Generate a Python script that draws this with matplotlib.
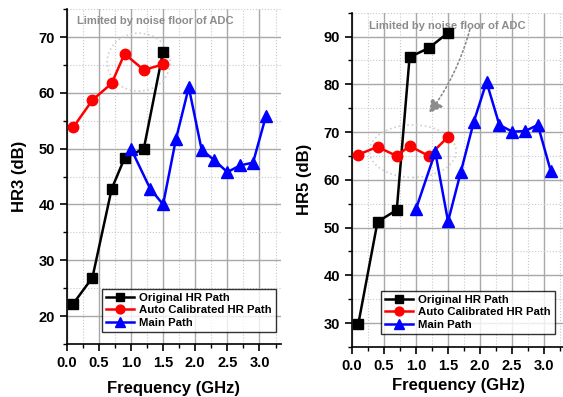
import matplotlib
matplotlib.use("Agg")
import matplotlib.pyplot as plt
from matplotlib.patches import Ellipse, FancyArrowPatch
from matplotlib.ticker import MultipleLocator

# ---- data ----
freq_hr = [0.1, 0.4, 0.7, 0.9, 1.2, 1.5]
freq_main = [1.0, 1.3, 1.5, 1.7, 1.9, 2.1, 2.3, 2.5, 2.7, 2.9, 3.1]

hr3_orig = [22.2, 26.9, 42.8, 48.3, 50.0, 67.4]
hr3_auto = [53.8, 58.7, 61.7, 67.0, 64.1, 65.1]
hr3_main = [50.0, 42.8, 40.0, 51.7, 61.0, 49.8, 47.9, 45.8, 47.0, 47.5, 55.8]

hr5_orig = [29.8, 51.2, 53.7, 85.7, 87.6, 90.8]
hr5_auto = [65.3, 66.9, 65.0, 67.1, 65.0, 69.0]
hr5_main = [53.9, 65.8, 51.3, 61.7, 72.1, 80.5, 71.5, 70.1, 70.2, 71.5, 61.9]

LABELS = ["Original HR Path", "Auto Calibrated HR Path", "Main Path"]
NOTE = "Limited by noise floor of ADC"

plt.rcParams['font.family'] = ['Liberation Sans', 'DejaVu Sans']
plt.rcParams['font.weight'] = 'bold'

fig = plt.figure(figsize=(5.63, 3.97), dpi=100)
ax1 = fig.add_axes([0.1185, 0.1335, 0.380, 0.8435])
ax2 = fig.add_axes([0.625, 0.126, 0.377, 0.842])


def draw_panel(ax, orig, auto, main, ylim, ylabel, leg_box, xpad):
    ax.plot(freq_hr, orig, color='black', marker='s', ms=6.5, lw=1.8, label=LABELS[0], zorder=5)
    ax.plot(freq_hr, auto, color='red', marker='o', ms=7.5, lw=1.8, label=LABELS[1], zorder=5)
    ax.plot(freq_main, main, color='blue', marker='^', ms=8.5, lw=1.8, label=LABELS[2], zorder=5)

    ax.set_ylim(*ylim)
    ax.xaxis.set_major_locator(MultipleLocator(0.5))
    ax.xaxis.set_minor_locator(MultipleLocator(0.25))
    ax.yaxis.set_major_locator(MultipleLocator(10))
    ax.yaxis.set_minor_locator(MultipleLocator(5))
    ax.grid(which='major', color='#a8a8a8', lw=1.0, ls='-')
    ax.grid(which='minor', color='#c8c8c8', lw=0.8, ls=':')
    ax.set_axisbelow(True)

    for s in ['top', 'right']:
        ax.spines[s].set_visible(False)
    for s in ['left', 'bottom']:
        ax.spines[s].set_linewidth(1.2)
    ax.tick_params(which='major', direction='out', length=5, width=1.2, labelsize=10.5)
    ax.tick_params(which='minor', direction='out', length=3, width=1.0)
    for lab in ax.get_xticklabels() + ax.get_yticklabels():
        lab.set_fontweight('bold')

    ax.xaxis.set_major_formatter(plt.FuncFormatter(lambda v, p: f"{v:.1f}"))
    ax.set_xlabel("Frequency (GHz)", fontsize=12, fontweight='bold', labelpad=xpad)
    ax.set_ylabel(ylabel, fontsize=12, fontweight='bold', labelpad=8)

    leg = ax.legend(loc='lower left', bbox_to_anchor=leg_box, fontsize=8.2,
                    frameon=True, fancybox=False, edgecolor='black',
                    handlelength=2.5, borderpad=0.35, labelspacing=0.25,
                    handletextpad=0.4, borderaxespad=0, markerscale=0.85)
    leg.get_frame().set_linewidth(1.0)
    for t in leg.get_texts():
        t.set_fontweight('bold')


draw_panel(ax1, hr3_orig, hr3_auto, hr3_main, (15, 75), "HR3 (dB)", (0.165, 0.035), 8)
ax1.set_xlim(0, 3.33)
draw_panel(ax2, hr5_orig, hr5_auto, hr5_main, (25, 95), "HR5 (dB)", (0.137, 0.038), 4)
ax2.set_xlim(0, 3.31)

# ---- annotations ----
ax1.text(0.05, 0.965, NOTE, transform=ax1.transAxes, color='#8c8c8c',
         fontsize=8, fontweight='bold', va='center', ha='left')
ax1.add_patch(Ellipse((1.12, 65.5), 0.98, 10.4, fill=False, ec='#d0d0d0',
                      ls=':', lw=1.2, zorder=2))

ax2.text(0.08, 0.96, NOTE, transform=ax2.transAxes, color='#8c8c8c',
         fontsize=8, fontweight='bold', va='center', ha='left')
ax2.add_patch(Ellipse((0.95, 66.0), 1.35, 11.0, fill=False, ec='#d0d0d0',
                      ls=':', lw=1.2, zorder=2))
ax2.add_patch(FancyArrowPatch((1.85, 92.0), (1.18, 73.5),
                              connectionstyle="arc3,rad=-0.1",
                              arrowstyle='-|>,head_length=8,head_width=4.5',
                              color='#8c8c8c', ls=':', lw=1.2, zorder=2))

fig.savefig("out.png", dpi=100)
